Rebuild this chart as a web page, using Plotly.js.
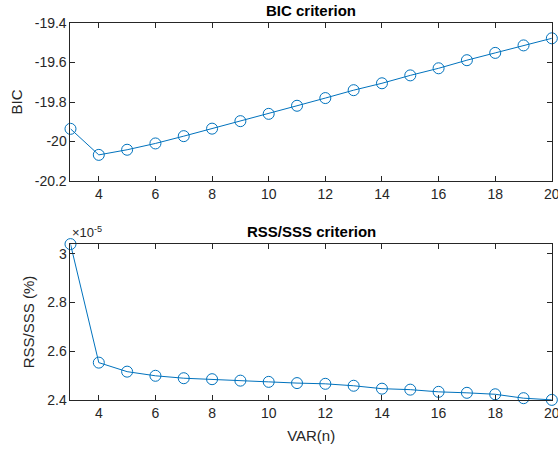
<!DOCTYPE html>
<html><head><meta charset="utf-8">
<script src="https://cdn.plot.ly/plotly-3.0.1.min.js"></script>
<style>html,body{margin:0;padding:0;background:#fff}#c{width:558px;height:453px}</style>
</head><body><div id="c"></div>
<script>
const varN = [3,4,5,6,7,8,9,10,11,12,13,14,15,16,17,18,19,20];
const bic = [-19.936,-20.068,-20.042,-20.010,-19.973,-19.935,-19.897,-19.860,-19.819,-19.780,-19.740,-19.705,-19.665,-19.629,-19.588,-19.551,-19.513,-19.477];
// RSS/SSS values in units of 1e-5
const rss = [3.040,2.553,2.516,2.499,2.489,2.485,2.479,2.474,2.469,2.466,2.458,2.446,2.442,2.433,2.429,2.423,2.407,2.400];
const xTicks = [4,6,8,10,12,14,16,18,20];
const bicTicks = [-20.2,-20,-19.8,-19.6,-19.4];
const bicTickText = ['-20.2','-20','-19.8','-19.6','-19.4'];
const rssTicks = [2.4,2.6,2.8,3.0];
const rssTickText = ['2.4','2.6','2.8','3'];

const blue = '#0072BD';
const axc = '#262626';
const fnt = {family:'Liberation Sans, Arial, sans-serif', size:14, color:axc};

function tr(y, xa, ya){
  return {x:varN, y:y, xaxis:xa, yaxis:ya, type:'scatter', mode:'lines+markers',
    line:{color:blue,width:1}, marker:{symbol:'circle-open',size:11,color:blue,line:{width:1,color:blue}},
    cliponaxis:false, showlegend:false, hoverinfo:'skip'};
}
function xax(anchor, title){
  const a = {domain:[0.1263,0.989], anchor:anchor, range:[2.9995,20.0005], tickvals:xTicks, ticks:'inside', ticklen:5,
    tickcolor:axc, showline:true, linecolor:axc, linewidth:1, mirror:'ticks', showgrid:false, zeroline:false,
    tickfont:fnt, ticklabeloverflow:'allow'};
  if(title) a.title = {text:title, font:{family:fnt.family,size:15,color:axc}, standoff:10};
  return a;
}
function yax(anchor, dom, range, tv, tt, title){
  return {domain:dom, anchor:anchor, range:range, tickvals:tv, ticktext:tt, ticks:'inside', ticklen:5,
    tickcolor:axc, showline:true, linecolor:axc, linewidth:1, mirror:'ticks', showgrid:false, zeroline:false,
    tickfont:fnt, ticklabeloverflow:'allow', title:{text:title, font:{family:fnt.family,size:15,color:axc}, standoff:8}};
}
const layout = {
  width:558, height:453, margin:{l:0,r:0,t:0,b:0}, paper_bgcolor:'#fff', plot_bgcolor:'#fff',
  xaxis: xax('y', null),
  yaxis: yax('x', [0.6004,0.9492], [-20.2005,-19.3995], bicTicks, bicTickText, 'BIC'),
  xaxis2: xax('y2', 'VAR(n)'),
  yaxis2: yax('x2', [0.117,0.4614], [2.3995,3.0405], rssTicks, rssTickText, 'RSS/SSS (%)'),
  annotations:[
    {text:'<b>BIC criterion</b>', xref:'paper', yref:'paper', x:0.5577, y:1-10/453, xanchor:'center', yanchor:'middle', showarrow:false, font:{family:fnt.family,size:15,color:'#000'}},
    {text:'<b>RSS/SSS criterion</b>', xref:'paper', yref:'paper', x:0.5577, y:1-232/453, xanchor:'center', yanchor:'middle', showarrow:false, font:{family:fnt.family,size:15,color:'#000'}},
    {text:'\u00d710<sup>-5</sup>', xref:'paper', yref:'paper', x:70/558, y:1-242/453, xanchor:'left', yanchor:'bottom', showarrow:false, font:{family:fnt.family,size:13,color:axc}}
  ]
};
Plotly.newPlot('c', [tr(bic,'x','y'), tr(rss,'x2','y2')], layout, {displayModeBar:false, staticPlot:true});
</script></body></html>
